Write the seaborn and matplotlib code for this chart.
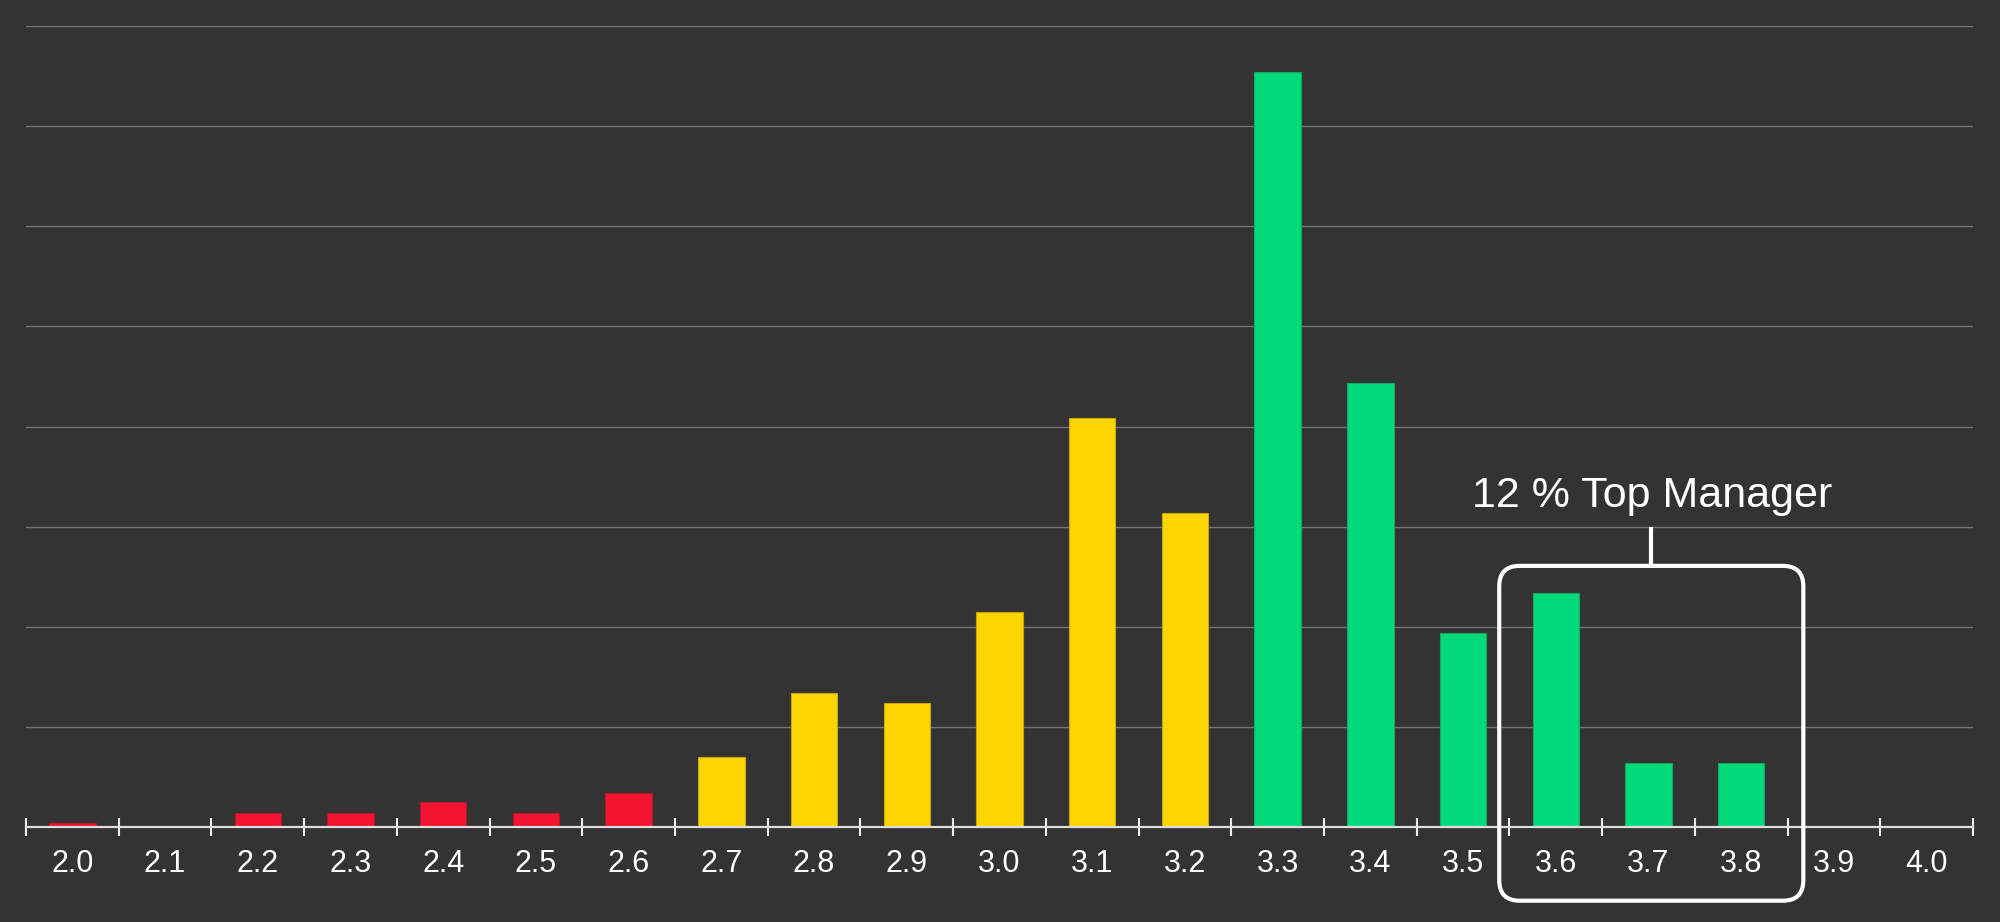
import matplotlib
matplotlib.use("Agg")
import matplotlib.pyplot as plt
from matplotlib.patches import FancyBboxPatch
from matplotlib.ticker import FixedLocator
import seaborn as sns
import pandas as pd

# ---- data ----
categories = ["2.0", "2.1", "2.2", "2.3", "2.4", "2.5", "2.6", "2.7", "2.8", "2.9", "3.0",
              "3.1", "3.2", "3.3", "3.4", "3.5", "3.6", "3.7", "3.8", "3.9", "4.0"]
values = [0.043, 0.0, 0.143, 0.143, 0.25, 0.143, 0.345, 0.70, 1.34, 1.24, 2.15,
          4.09, 3.14, 7.54, 4.44, 1.94, 2.34, 0.645, 0.645, 0.0, 0.0]
groups = ["low"] * 7 + ["mid"] * 6 + ["high"] * 8
group_colors = {"low": "#F31430", "mid": "#FFD500", "high": "#00DA7A"}
group_edges = {"low": "#B8142A", "mid": "#C9A800", "high": "#10A862"}
annotation_text = "12 % Top Manager"

BG = "#333333"

sns.set_theme(style="white")
plt.rcParams["font.family"] = ["Liberation Sans", "DejaVu Sans"]

fig = plt.figure(figsize=(20, 9.22), dpi=100, facecolor=BG)
ax = fig.add_axes([0.013, 1 - 827.3 / 922, 0.9735, (827.3 - 26) / 922])
ax.set_facecolor(BG)

df = pd.DataFrame({"cat": categories, "val": values, "grp": groups})
sns.barplot(data=df, x="cat", y="val", hue="grp", palette=group_colors,
            order=categories, width=0.5, dodge=False, legend=False, ax=ax,
            saturation=1, zorder=3)

# darker thin bar edges
for patch in ax.patches:
    x = patch.get_x() + patch.get_width() / 2
    idx = int(round(x))
    if 0 <= idx < len(groups):
        patch.set_edgecolor(group_edges[groups[idx]])
        patch.set_linewidth(0.8)

ax.set_xlim(-0.5, len(categories) - 0.5)
ax.set_ylim(0, 8)
ax.set_xlabel("")
ax.set_ylabel("")

# grid
ax.set_yticks(range(1, 9))
ax.set_yticklabels([])
ax.tick_params(axis="y", length=0)
ax.yaxis.grid(True, color="#757575", linewidth=1.0, zorder=0)
ax.set_axisbelow(True)
ax.xaxis.grid(False)

# spines
for s in ["top", "left", "right"]:
    ax.spines[s].set_visible(False)
ax.spines["bottom"].set_color("#DDDDDD")
ax.spines["bottom"].set_linewidth(1.6)
ax.spines["bottom"].set_zorder(5)

# labels at centres, tick marks at boundaries
ax.set_xticks(range(len(categories)))
ax.set_xticklabels(categories)
ax.tick_params(axis="x", which="major", length=0, pad=15.5, labelsize=22,
               labelcolor="white")
ax.xaxis.set_minor_locator(FixedLocator([i - 0.5 for i in range(len(categories) + 1)]))
ax.tick_params(axis="x", which="minor", direction="inout", length=12.5,
               width=1.5, color="#EEEEEE", bottom=True)

# annotation box around top managers
box = FancyBboxPatch((15.39, -0.733), 18.67 - 15.39, 2.61 + 0.733,
                     boxstyle="round,pad=0,rounding_size=0.22",
                     mutation_aspect=0.93,
                     fill=False, edgecolor="white", linewidth=3.0,
                     clip_on=False, zorder=6, transform=ax.transData)
ax.add_patch(box)
ax.plot([17.03, 17.03], [2.61, 3.0], color="white", linewidth=3.0,
        solid_capstyle="butt", clip_on=False, zorder=6)
ax.text(17.04, 3.2, annotation_text, color="white", fontsize=31,
        ha="center", va="baseline", zorder=7)

fig.savefig("out.png", dpi=100, facecolor=BG)
